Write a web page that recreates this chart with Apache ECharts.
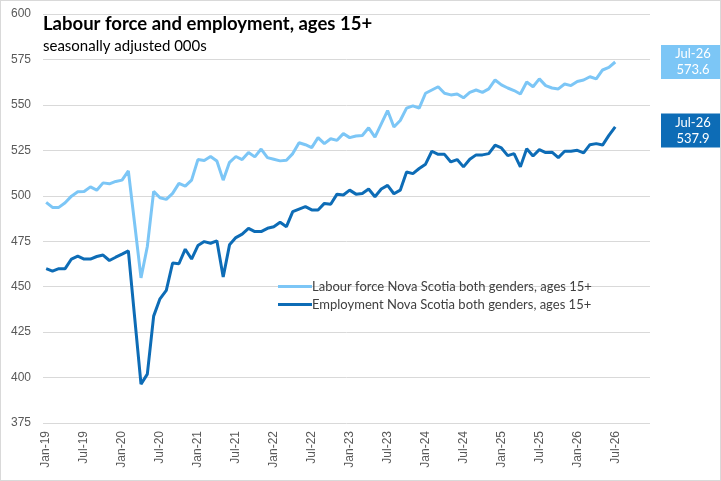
<!DOCTYPE html>
<html>
<head>
    <meta charset="utf-8">
    <title>Labour force and employment</title>
    <script src="https://cdn.jsdelivr.net/npm/echarts@6/dist/echarts.min.js"></script>
    <style>
        html, body { margin: 0; padding: 0; background: #fff; }
        #chart {
            width: 721px;
            height: 481px;
            box-sizing: border-box;
            border: 1px solid #d9d9d9;
        }
    </style>
</head>
<body>
<div id="chart"></div>
<script>
    // months Jan-19 .. Dec-26 (axis runs to Dec, data ends Jul-26)
    var monthNames = ['Jan', 'Feb', 'Mar', 'Apr', 'May', 'Jun', 'Jul', 'Aug', 'Sep', 'Oct', 'Nov', 'Dec'];
    var years = ['19', '20', '21', '22', '23', '24', '25', '26'];
    var categories = [];
    years.forEach(function (y) {
        monthNames.forEach(function (m) { categories.push(m + '-' + y); });
    });

    var labourForce = [
        496.4, 493.6, 493.6, 496.2, 499.8, 502.2, 502.4, 504.9, 503.1, 507.1, 506.6, 507.9,
        508.6, 513.7, 484.5, 454.8, 472.1, 502.4, 498.9, 498.0, 501.3, 506.8, 505.3, 508.6,
        519.9, 519.4, 521.6, 519.1, 508.6, 518.4, 521.6, 519.9, 523.8, 521.4, 525.7, 521.0,
        520.1, 519.2, 519.5, 523.2, 529.2, 528.1, 526.5, 532.0, 528.7, 531.4, 530.5, 534.2,
        532.0, 532.9, 533.2, 537.4, 532.3, 539.6, 546.9, 537.8, 541.4, 548.2, 549.5, 548.2,
        556.4, 558.2, 560.0, 556.4, 555.5, 556.0, 553.9, 556.9, 558.2, 556.9, 558.8, 563.7,
        561.0, 559.3, 557.9, 556.0, 562.6, 560.0, 564.3, 560.6, 559.3, 558.8, 561.5, 560.6,
        562.9, 563.7, 565.5, 564.3, 569.2, 570.6, 573.6
    ];

    var employment = [
        459.9, 458.6, 459.9, 459.9, 465.2, 466.8, 465.2, 465.2, 466.6, 467.4, 464.4, 466.2,
        467.9, 469.7, 433.0, 396.4, 401.9, 433.8, 443.3, 448.0, 463.0, 462.6, 470.6, 465.2,
        472.6, 474.8, 473.9, 475.2, 455.3, 473.0, 477.0, 478.9, 482.1, 480.3, 480.3, 482.1,
        483.0, 485.4, 483.0, 491.3, 492.7, 494.0, 492.2, 492.2, 495.8, 495.3, 500.9, 500.4,
        503.1, 500.9, 501.3, 503.7, 499.5, 503.7, 505.7, 501.1, 503.1, 513.1, 512.2, 515.0,
        517.4, 524.5, 522.8, 522.8, 518.6, 519.9, 515.9, 520.1, 522.5, 522.5, 523.2, 527.8,
        526.3, 522.1, 523.2, 515.9, 525.9, 521.9, 525.4, 523.8, 524.0, 521.0, 524.5, 524.5,
        525.0, 523.6, 528.1, 528.7, 527.9, 533.2, 537.9
    ];

    var seriesNames = [
        'Labour force Nova Scotia both genders, ages 15+',
        'Employment Nova Scotia both genders, ages 15+'
    ];

    var lightBlue = '#7cc6f6';
    var darkBlue = '#0d6cb6';

    var chart = echarts.init(document.getElementById('chart'));

    var option = {
        animation: false,
        textStyle: { fontFamily: 'Liberation Sans' },
        title: {
            text: 'Labour force and employment, ages 15+',
            subtext: 'seasonally adjusted 000s',
            left: 42,
            top: 14,
            padding: 0,
            itemGap: 5,
            textStyle: { fontFamily: 'Lato', fontWeight: 'bold', fontSize: 18.5, color: '#000000' },
            subtextStyle: { fontFamily: 'Lato', fontSize: 15, color: '#000000' }
        },
        legend: {
            orient: 'vertical',
            left: 272,
            top: 274,
            itemWidth: 34,
            itemHeight: 3,
            itemGap: 5,
            icon: 'rect',
            textStyle: { fontFamily: 'Lato', fontSize: 13, color: '#404040', padding: [0, 0, 0, -5] },
            data: seriesNames
        },
        grid: { left: 42, right: 70, top: 13, bottom: 57 },
        xAxis: {
            type: 'category',
            data: categories,
            boundaryGap: true,
            axisLine: { show: false },
            axisTick: { show: false },
            axisLabel: {
                interval: 5,
                rotate: 90,
                margin: 8,
                fontSize: 12,
                color: '#595959'
            }
        },
        yAxis: {
            type: 'value',
            min: 375,
            max: 600,
            interval: 25,
            axisLine: { show: false },
            axisTick: { show: false },
            axisLabel: { fontSize: 12, color: '#595959', margin: 12 },
            splitLine: { lineStyle: { color: '#d9d9d9', width: 1 } }
        },
        series: [
            {
                name: seriesNames[0],
                type: 'line',
                data: labourForce.map(function (v, i) { return [i, v]; }),
                showSymbol: false,
                lineStyle: { color: lightBlue, width: 3 },
                itemStyle: { color: lightBlue }
            },
            {
                name: seriesNames[1],
                type: 'line',
                data: employment.map(function (v, i) { return [i, v]; }),
                showSymbol: false,
                lineStyle: { color: darkBlue, width: 3 },
                itemStyle: { color: darkBlue }
            }
        ]
    };

    chart.setOption(option);

    // boxed labels for the latest month, placed at the data's height
    function lastBox(values, color, dy) {
        var last = values.length - 1;
        var y = chart.convertToPixel({ gridIndex: 0 }, [last, values[last]])[1];
        return {
            type: 'text',
            x: 692,
            y: y + dy,
            style: {
                text: categories[last] + '\n' + values[last].toFixed(1),
                fill: '#ffffff',
                font: '13px Lato',
                lineHeight: 16,
                align: 'center',
                verticalAlign: 'middle',
                backgroundColor: color,
                width: 52,
                padding: [1, 6, 1, 6]
            }
        };
    }

    chart.setOption({
        graphic: [
            lastBox(labourForce, lightBlue, 0),
            lastBox(employment, darkBlue, 3.5)
        ]
    });
</script>
</body>
</html>
